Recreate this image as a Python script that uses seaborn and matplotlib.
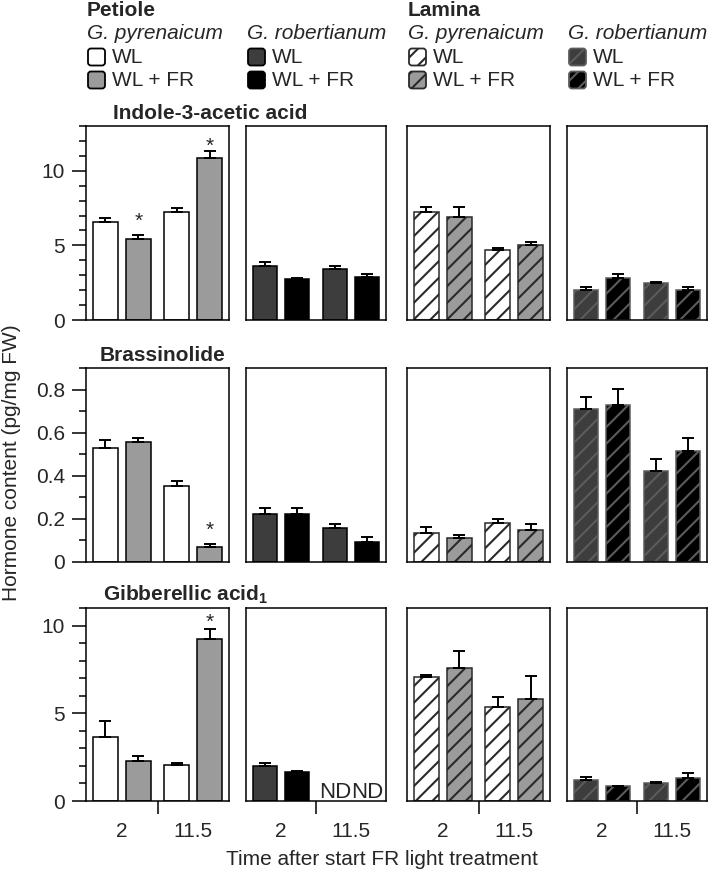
import matplotlib
matplotlib.use("Agg")
import matplotlib.pyplot as plt
import matplotlib.patches as mpatches
from matplotlib.ticker import MultipleLocator, FuncFormatter
import numpy as np
import pandas as pd
import seaborn as sns

# ---- data -------------------------------------------------------------
TIMES = ["2", "11.5"]
LIGHTS = ["WL", "WL + FR"]
TISSUES = ["Petiole", "Lamina"]
SPECIES = ["G. pyrenaicum", "G. robertianum"]
HORMONES = ["Indole-3-acetic acid", "Brassinolide", r"Gibberellic acid$_\mathbf{1}$"]

# per panel (petiole Gp, petiole Gr, lamina Gp, lamina Gr):
# 2 h WL, 2 h WL+FR, 11.5 h WL, 11.5 h WL+FR
IAA_MEAN = [[6.56, 5.44, 7.26, 10.83], [3.60, 2.74, 3.44, 2.88],
            [7.24, 6.88, 4.72, 5.03], [2.02, 2.83, 2.49, 1.98]]
IAA_ERR = [[0.25, 0.27, 0.27, 0.50], [0.31, 0.05, 0.20, 0.22],
           [0.36, 0.67, 0.13, 0.23], [0.22, 0.22, 0.07, 0.22]]
BL_MEAN = [[0.528, 0.556, 0.353, 0.068], [0.220, 0.223, 0.157, 0.093],
           [0.133, 0.108, 0.181, 0.147], [0.709, 0.729, 0.423, 0.516]]
BL_ERR = [[0.035, 0.019, 0.023, 0.012], [0.031, 0.024, 0.017, 0.023],
          [0.027, 0.016, 0.017, 0.027], [0.054, 0.073, 0.056, 0.057]]
GA_MEAN = [[3.65, 2.29, 2.06, 9.26], [2.02, 1.68, np.nan, np.nan],
           [7.09, 7.58, 5.35, 5.82], [1.19, 0.83, 1.04, 1.32]]
GA_ERR = [[0.89, 0.30, 0.10, 0.53], [0.17, 0.04, np.nan, np.nan],
          [0.10, 0.95, 0.57, 1.31], [0.17, 0.02, 0.06, 0.30]]

# significant differences: (hormone row, panel, time)
STAR_ROWS = [0, 0, 1, 2]
STAR_PANELS = [0, 0, 0, 0]
STAR_TIMES = ["2", "11.5", "11.5", "11.5"]
STAR_PAD = [3, -3.5, 3, -2]   # points above the error bar

Y_MAX = [13, 0.9, 11]
Y_MAJOR = [5, 0.2, 5]
Y_MINOR = [1, 0.1, 1]

# ---- style ------------------------------------------------------------
FACE = [["white", "#9b9b9b"], ["#3d3d3d", "black"],
        ["white", "#9b9b9b"], ["#3d3d3d", "black"]]
EDGE = ["black", "black", "#2a2a2a", "#5c5c5c"]
HATCH = [None, None, "//", "//"]

sns.set_theme(style="ticks")
plt.rcParams["font.family"] = ["Liberation Sans", "DejaVu Sans"]
plt.rcParams["mathtext.fontset"] = "custom"
plt.rcParams["mathtext.rm"] = "Liberation Sans"
plt.rcParams["mathtext.bf"] = "Liberation Sans:bold"
plt.rcParams["hatch.linewidth"] = 1.5

W, H = 709, 872
COL_X = [86, 246, 407, 567]
COL_W = [143, 140, 143, 140]
ROW_TOP = [126, 368, 608]
ROW_BOT = [320, 561.6, 801]


def build_frame():
    rows = []
    tables = [(IAA_MEAN, IAA_ERR), (BL_MEAN, BL_ERR), (GA_MEAN, GA_ERR)]
    for h, (means, errs) in enumerate(tables):
        for p in range(4):
            k = 0
            for t in TIMES:
                for l in LIGHTS:
                    rows.append(dict(hormone=h, panel=p, time=t, light=l,
                                     mean=means[p][k], err=errs[p][k]))
                    k += 1
    return pd.DataFrame(rows)


def px(x, y):
    return x / 100, (H - y) / 100


def draw_legend(fig):
    tr = fig.dpi_scale_trans
    cols = [87, 247, 408, 568]
    for i, tissue in enumerate(TISSUES):
        fig.text(*px(cols[2 * i], 10), tissue, transform=tr, fontsize=15,
                 fontweight="bold", va="center", ha="left")
    for c in range(4):
        x = cols[c]
        fig.text(*px(x, 33), SPECIES[c % 2], transform=tr, fontsize=15,
                 style="italic", va="center", ha="left")
        for j, (lab, yc) in enumerate(zip(LIGHTS, [57, 80])):
            x0, y0 = px(x + 1, yc + 8.5)
            box = mpatches.FancyBboxPatch(
                (x0, y0), 0.17, 0.17,
                boxstyle="round,pad=0,rounding_size=0.03",
                facecolor=FACE[c][j], edgecolor=EDGE[c], linewidth=1.3,
                hatch=HATCH[c], transform=tr)
            fig.patches.append(box)
            fig.text(*px(x + 25, yc), lab, transform=tr, fontsize=15,
                     va="center", ha="left")


def star_pad(r, p, t):
    for sr, sp, st, pad in zip(STAR_ROWS, STAR_PANELS, STAR_TIMES, STAR_PAD):
        if sr == r and sp == p and st == t:
            return pad
    return None


def main():
    df = build_frame()
    fig = plt.figure(figsize=(W / 100, H / 100), dpi=100)

    for r in range(3):
        for p in range(4):
            rect = [COL_X[p] / W, 1 - ROW_BOT[r] / H, COL_W[p] / W,
                    (ROW_BOT[r] - ROW_TOP[r]) / H]
            ax = fig.add_axes(rect)
            sub = df[(df.hormone == r) & (df.panel == p)].dropna(subset=["mean"])
            sns.barplot(data=sub, x="time", y="mean", hue="light",
                        order=TIMES, hue_order=LIGHTS, palette=FACE[p],
                        saturation=1, width=0.92, gap=0.23, errorbar=None,
                        edgecolor=EDGE[p], linewidth=1.1, legend=False, ax=ax)

            for cont, light in zip(ax.containers, LIGHTS):
                rows = sub[sub.light == light]
                for bar, (_, row) in zip(cont, rows.iterrows()):
                    if HATCH[p]:
                        bar.set_hatch(HATCH[p])
                    cx = bar.get_x() + bar.get_width() / 2
                    ax.errorbar(cx, row["mean"], yerr=[[0], [row["err"]]],
                                fmt="none", ecolor="black", elinewidth=1.4,
                                capsize=4.5, capthick=1.4, zorder=4)
                    pad = star_pad(r, p, row["time"])
                    if pad is not None and light == "WL + FR":
                        ax.annotate("*", xy=(cx, row["mean"] + row["err"]),
                                    xytext=(0, pad), textcoords="offset points",
                                    ha="center", va="bottom", fontsize=15)

            # not detected
            missing = df[(df.hormone == r) & (df.panel == p) & df["mean"].isna()]
            for _, row in missing.iterrows():
                xi = TIMES.index(row["time"]) + (0.23 if row["light"] == "WL + FR" else -0.23)
                ax.annotate("ND", xy=(xi, 0), xytext=(0, 2.5),
                            textcoords="offset points", ha="center",
                            va="baseline", fontsize=16)

            ax.set_xlim(-0.5, 1.5)
            ax.set_ylim(0, Y_MAX[r])
            ax.set_xlabel("")
            ax.set_ylabel("")
            for s in ax.spines.values():
                s.set_visible(True)
                s.set_linewidth(1.1)
                s.set_color("black")

            if r == 2:
                ax.set_xticks([0, 1], TIMES)
                ax.set_xticks([0.5], minor=True)
                ax.tick_params(axis="x", which="major", length=0, pad=15,
                               labelsize=15)
                ax.tick_params(axis="x", which="minor", length=9.5, width=1.1,
                               color="black")
            else:
                ax.set_xticks([])
                ax.tick_params(axis="x", which="both", bottom=False,
                               labelbottom=False)

            if p == 0:
                ax.yaxis.set_major_locator(MultipleLocator(Y_MAJOR[r]))
                ax.yaxis.set_minor_locator(MultipleLocator(Y_MINOR[r]))
                ax.yaxis.set_major_formatter(FuncFormatter(lambda v, _: f"{v:g}"))
                ax.tick_params(axis="y", which="major", length=10, width=1.1,
                               pad=5, labelsize=15, color="black")
                ax.tick_params(axis="y", which="minor", length=5, width=1.1,
                               color="black")
            else:
                ax.set_yticks([])
                ax.tick_params(axis="y", which="both", left=False,
                               labelleft=False)

    tr = fig.dpi_scale_trans
    title_pos = [(113, 113), (100, 355), (103, 595)]
    for name, (tx, ty) in zip(HORMONES, title_pos):
        fig.text(*px(tx, ty), name, transform=tr, fontsize=15,
                 fontweight="bold", ha="left", va="center")

    fig.text(*px(12, 463), "Hormone content (pg/mg FW)", transform=tr,
             rotation=90, fontsize=15, ha="center", va="center")
    fig.text(*px(382, 859), "Time after start FR light treatment",
             transform=tr, fontsize=15, ha="center", va="center")

    draw_legend(fig)
    fig.savefig("out.png", dpi=100)
    plt.close(fig)


if __name__ == "__main__":
    main()
